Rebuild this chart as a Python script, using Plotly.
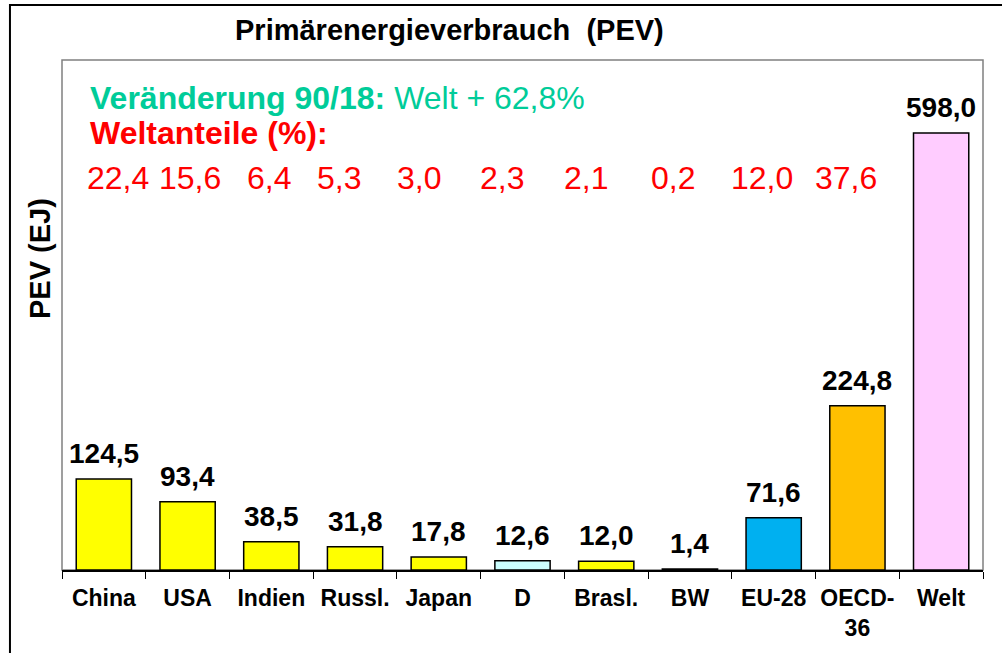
import plotly.graph_objects as go

categories = ['China', 'USA', 'Indien', 'Russl.', 'Japan', 'D', 'Brasl.', 'BW', 'EU-28', 'OECD-<br>36', 'Welt']
pev_ej = [124.5, 93.4, 38.5, 31.8, 17.8, 12.6, 12.0, 1.4, 71.6, 224.8, 598.0]
bar_colors = ['#FFFF00', '#FFFF00', '#FFFF00', '#FFFF00', '#FFFF00', '#CCFFFF',
              '#FFFF00', '#000000', '#00B0F0', '#FFC000', '#FFCCFF']
world_share = ['22,4', '15,6', '6,4', '5,3', '3,0', '2,3', '2,1', '0,2', '12,0', '37,6']

FONT = 'Liberation Sans, Arial, sans-serif'
GREEN = '#00CC99'
RED = '#FF0000'


def de_number(v):
    return f"{v:.1f}".replace('.', ',')


fig = go.Figure()

fig.add_trace(go.Bar(
    x=categories,
    y=pev_ej,
    marker=dict(color=bar_colors, line=dict(color='black', width=1.5)),
    showlegend=False,
    hoverinfo='x+y',
))

annotations = []

# value labels above the bars
for cat, v in zip(categories, pev_ej):
    annotations.append(dict(
        x=cat, y=v, xref='x', yref='y', text=f'<b>{de_number(v)}</b>', showarrow=False,
        yanchor='bottom', yshift=8, font=dict(family=FONT, size=28, color='black'),
    ))

# share labels sit slightly off the category centres, as in the original
share_shift = [14, 2, -2, -16, -20, -21, -20, -17, -12, -11]
for cat, share, dx in zip(categories, world_share, share_shift):
    annotations.append(dict(
        x=cat, y=0.7686, xref='x', yref='paper', text=share, showarrow=False,
        xshift=dx, yanchor='middle', font=dict(family=FONT, size=32, color=RED),
    ))

annotations += [
    dict(x=0.421, y=1.0588, xref='paper', yref='paper', showarrow=False, yanchor='middle',
         text='<b>Primärenergieverbrauch  (PEV)</b>',
         font=dict(family=FONT, size=29, color='black')),
    dict(x=0.0282, y=0.9255, xref='paper', yref='paper', showarrow=False,
         xanchor='left', yanchor='middle',
         text='<b>Veränderung 90/18:</b> Welt + 62,8%',
         font=dict(family=FONT, size=32, color=GREEN)),
    dict(x=0.0282, y=0.857, xref='paper', yref='paper', showarrow=False,
         xanchor='left', yanchor='middle',
         text='<b>Weltanteile (%):</b>',
         font=dict(family=FONT, size=32, color=RED)),
    dict(x=-0.0239, y=0.6118, xref='paper', yref='paper', showarrow=False, textangle=-90,
         xanchor='center', yanchor='middle',
         text='<b>PEV (EJ)</b>',
         font=dict(family=FONT, size=29, color='black')),
]

fig.update_layout(
    width=1002,
    height=653,
    margin=dict(l=62, r=19, t=60, b=83),
    paper_bgcolor='white',
    plot_bgcolor='white',
    bargap=0.34,
    annotations=annotations,
    shapes=[
        dict(type='rect', xref='paper', yref='paper', x0=0, x1=1, y0=0, y1=1,
             line=dict(color='#808080', width=1.5), layer='below'),
        dict(type='rect', xref='paper', yref='paper', x0=-0.0565, x1=1.05, y0=-0.3, y1=1.1078,
             line=dict(color='black', width=2)),
    ],
    xaxis=dict(
        showline=True, linecolor='black', linewidth=1.5,
        ticks='outside', tickson='boundaries', ticklen=7, tickcolor='black',
        ticklabelstandoff=7,
        tickfont=dict(family=FONT, size=23, color='black', weight='bold'),
        showgrid=False,
    ),
    yaxis=dict(range=[0, 698], showticklabels=False, showgrid=False, zeroline=False, ticks=''),
)

fig.write_html("out.html", config={'displayModeBar': False},
               post_script="document.body.style.margin='0';")
